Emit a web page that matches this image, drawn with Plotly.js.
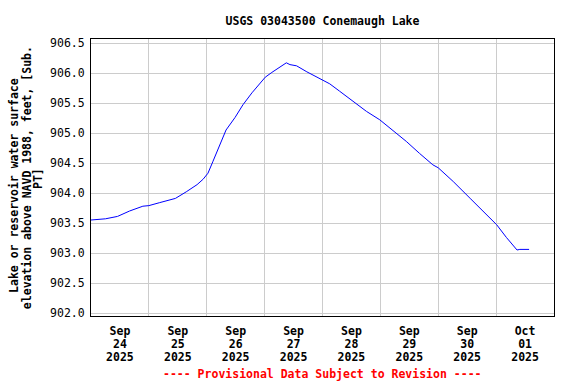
<!DOCTYPE html>
<html>
<head>
<meta charset="utf-8">
<script src="https://cdn.plot.ly/plotly-3.0.1.min.js"></script>
<style>html,body{margin:0;padding:0;background:#fff;}#chart{width:576px;height:384px;}</style>
</head>
<body>
<div id="chart"></div>
<script>
var times = [
  "2025-09-24 00:00","2025-09-24 06:00","2025-09-24 11:00","2025-09-24 16:00","2025-09-24 21:30",
  "2025-09-25 00:00","2025-09-25 04:30","2025-09-25 11:00","2025-09-25 15:30","2025-09-25 20:00",
  "2025-09-25 22:30","2025-09-26 00:30","2025-09-26 02:30","2025-09-26 05:30","2025-09-26 08:00",
  "2025-09-26 11:45","2025-09-26 15:00","2025-09-26 18:45","2025-09-26 22:00","2025-09-27 00:15",
  "2025-09-27 03:00","2025-09-27 06:15","2025-09-27 09:00","2025-09-27 10:30","2025-09-27 13:15",
  "2025-09-27 17:30","2025-09-27 23:00","2025-09-28 03:00","2025-09-28 07:00","2025-09-28 12:45",
  "2025-09-28 18:15","2025-09-28 23:45","2025-09-29 05:15","2025-09-29 10:45","2025-09-29 16:15",
  "2025-09-29 21:45","2025-09-30 00:00","2025-09-30 06:15","2025-09-30 13:15","2025-09-30 18:45",
  "2025-10-01 00:15","2025-10-01 04:15","2025-10-01 08:40","2025-10-01 09:50","2025-10-01 13:40"
];
var elevation = [
  903.55,903.57,903.61,903.70,903.78,
  903.79,903.84,903.91,904.02,904.14,
  904.23,904.33,904.52,904.80,905.05,
  905.26,905.47,905.67,905.83,905.93,
  906.01,906.10,906.17,906.14,906.12,
  906.02,905.91,905.82,905.70,905.52,
  905.36,905.22,905.04,904.86,904.66,
  904.47,904.42,904.19,903.91,903.69,
  903.47,903.26,903.05,903.06,903.06
];
var chartTitle = "USGS 03043500 Conemaugh Lake";
var yTitleLines = ["Lake or reservoir water surface", "elevation above NAVD 1988, feet, [Sub.", "PT]"];
var footer = "---- Provisional Data Subject to Revision ----";
var xRange = ["2025-09-24 00:00", "2025-10-02 00:00"];
var yRange = [901.95, 906.567];
var xLabelFormats = ["<b>%b</b>", "<b>%d</b>", "<b>%Y</b>"];

var FONT = "DejaVu Sans Mono, monospace";
var traces = [{
  x: times, y: elevation, type: "scatter", mode: "lines",
  line: {color: "#0000ff", width: 1}, hoverinfo: "skip"
}];
// invisible anchors so the extra label axes (day, year lines) are drawn
["x2", "x3"].forEach(function (ax) {
  traces.push({
    x: xRange, y: yRange, xaxis: ax, yaxis: "y", type: "scatter", mode: "markers",
    marker: {opacity: 0, size: 1}, hoverinfo: "skip", showlegend: false
  });
});

var annotations = [];
var yLineX = [-0.166, -0.139, -0.113];
var yLineY = [0.47, 0.50, 0.497];
for (var i = 0; i < yTitleLines.length; i++) {
  annotations.push({
    text: "<b>" + yTitleLines[i] + "</b>", xref: "paper", yref: "paper",
    x: yLineX[i], y: yLineY[i], xanchor: "center", yanchor: "middle",
    textangle: -90, showarrow: false,
    font: {family: FONT, size: 11.5, color: "#000"}
  });
}
annotations.push({
  text: "<b>" + footer + "</b>", xref: "paper", yref: "paper",
  x: 0.5, y: -0.209, xanchor: "center", yanchor: "middle", showarrow: false,
  font: {family: FONT, size: 11.5, color: "#ff0000"}
});

function xAxis(fmt, len, main) {
  var ax = {
    type: "date", range: xRange, autorange: false,
    tick0: "2025-09-24", dtick: 86400000,
    ticklabelmode: "period", tickformat: fmt,
    ticks: "outside", ticklen: len, tickcolor: "rgba(0,0,0,0)",
    zeroline: false, fixedrange: true,
    tickfont: {family: FONT, size: 11.5, color: "#000"}
  };
  if (main) {
    ax.showgrid = true; ax.gridcolor = "#cccccc"; ax.gridwidth = 1;
    ax.showline = true; ax.linecolor = "#000"; ax.linewidth = 1; ax.mirror = true;
  } else {
    ax.showgrid = false; ax.showline = false;
    ax.overlaying = "x"; ax.anchor = "y"; ax.side = "bottom";
  }
  return ax;
}

var layout = {
  width: 576, height: 384,
  margin: {l: 91, r: 22, t: 39, b: 68},
  paper_bgcolor: "#fff", plot_bgcolor: "#fff",
  showlegend: false,
  title: {
    text: "<b>" + chartTitle + "</b>", x: 0.5, xref: "paper",
    y: 0.945, yref: "container", yanchor: "middle",
    font: {family: FONT, size: 11.5, color: "#000"}
  },
  xaxis: xAxis(xLabelFormats[0], 4, true),
  xaxis2: xAxis(xLabelFormats[1], 17, false),
  xaxis3: xAxis(xLabelFormats[2], 30, false),
  yaxis: {
    range: yRange, autorange: false,
    tick0: 902, dtick: 0.5, tickformat: ".1f",
    showgrid: true, gridcolor: "#cccccc", gridwidth: 1,
    showline: true, linecolor: "#000", linewidth: 1, mirror: true,
    ticks: "outside", ticklen: 3, tickcolor: "rgba(0,0,0,0)",
    zeroline: false, fixedrange: true,
    tickfont: {family: FONT, size: 11.5, color: "#000"}
  },
  annotations: annotations
};
Plotly.newPlot("chart", traces, layout, {staticPlot: true, displayModeBar: false});
</script>
</body>
</html>
